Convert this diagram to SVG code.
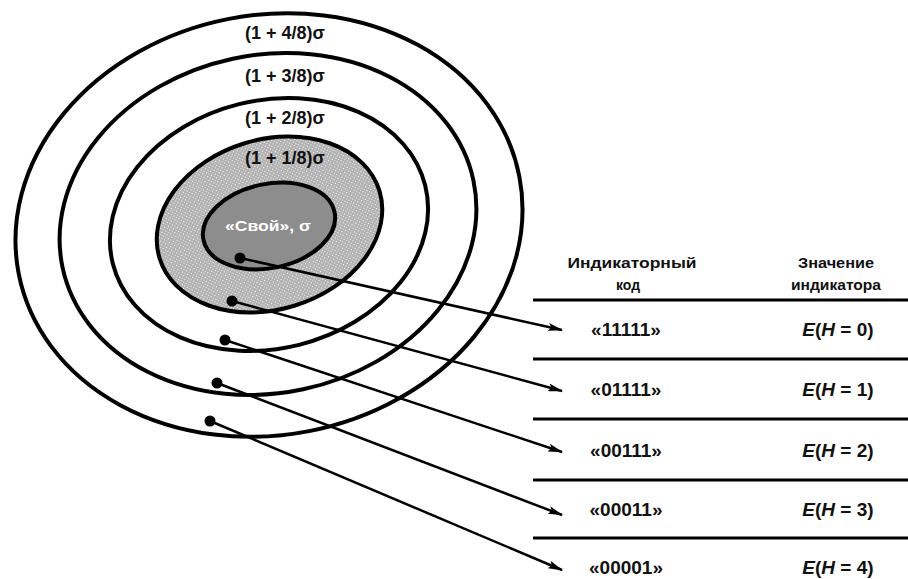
<svg xmlns="http://www.w3.org/2000/svg" width="908" height="579" viewBox="0 0 908 579">
<style>
.ring{fill:none;stroke:#000;stroke-width:4}
.lbl{font-family:"Liberation Sans",Arial,sans-serif;font-weight:bold;font-size:18px;fill:#111;text-anchor:middle}
.hdr{font-family:"Liberation Sans",Arial,sans-serif;font-weight:bold;font-size:14px;fill:#111;text-anchor:middle}
.cell{font-family:"Liberation Sans",Arial,sans-serif;font-weight:bold;font-size:19px;fill:#111;text-anchor:middle}
.it{font-style:italic}
.rule{stroke:#000;stroke-width:3}
.arr{stroke:#000;stroke-width:2.5;fill:none;marker-end:url(#ah)}
.dot{fill:#000}
</style>
<defs>
<pattern id="stip" width="4" height="4" patternUnits="userSpaceOnUse">
<rect width="4" height="4" fill="#b3b3b3"/>
<rect x="0" y="0" width="1" height="1" fill="#fff"/>
<rect x="2" y="2" width="1" height="1" fill="#e8e8e8"/>
</pattern>
<marker id="ah" viewBox="0 0 15 8" refX="14" refY="4" markerWidth="15" markerHeight="8" markerUnits="userSpaceOnUse" orient="auto">
<path d="M0,0 L15,4 L0,8 L3,4 Z" fill="#000"/>
</marker>
</defs>
<rect width="908" height="579" fill="#fff"/>

<g id="ring4">
<ellipse class="ring" cx="269" cy="225" rx="255" ry="210" transform="rotate(-11 269 225)"/>
<text class="lbl" x="285" y="39">(1 + 4/8)σ</text>
</g>
<g id="ring3">
<ellipse class="ring" cx="268" cy="224" rx="210" ry="169" transform="rotate(-12 268 224)"/>
<text class="lbl" x="285" y="82">(1 + 3/8)σ</text>
</g>
<g id="ring2">
<ellipse class="ring" cx="269" cy="224.5" rx="161" ry="124" transform="rotate(-14 269 224.5)"/>
<text class="lbl" x="285" y="124">(1 + 2/8)σ</text>
</g>
<g id="ring1">
<ellipse class="ring" cx="269.5" cy="224.5" rx="115" ry="85" transform="rotate(-17 269.5 224.5)" style="fill:url(#stip)"/>
<text class="lbl" x="285" y="164">(1 + 1/8)σ</text>
</g>
<g id="core">
<ellipse class="ring" cx="269" cy="226" rx="67" ry="42" transform="rotate(-12 269 226)" style="fill:#8d8d8d"/>
<text class="lbl" x="268" y="231" style="fill:#fff;font-size:15px" textLength="86" lengthAdjust="spacingAndGlyphs">«Свой», σ</text>
</g>

<g id="table">
<text class="hdr" x="632" y="268" textLength="129" lengthAdjust="spacingAndGlyphs">Индикаторный</text>
<text class="hdr" x="628" y="290">код</text>
<text class="hdr" x="836" y="268" textLength="76" lengthAdjust="spacingAndGlyphs">Значение</text>
<text class="hdr" x="836" y="290" textLength="90" lengthAdjust="spacingAndGlyphs">индикатора</text>
<line class="rule" x1="533" y1="300" x2="908" y2="300"/>
<line class="rule" x1="533" y1="359" x2="908" y2="359"/>
<line class="rule" x1="533" y1="419" x2="908" y2="419"/>
<line class="rule" x1="533" y1="480" x2="908" y2="480"/>
<line class="rule" x1="533" y1="538" x2="908" y2="538"/>
</g>
<g id="row0"><text class="cell" x="626" y="336">«11111»</text><text class="cell" x="838" y="336"><tspan class="it">E</tspan>(<tspan class="it">H</tspan> = 0)</text></g>
<g id="row1"><text class="cell" x="626" y="396">«01111»</text><text class="cell" x="838" y="396"><tspan class="it">E</tspan>(<tspan class="it">H</tspan> = 1)</text></g>
<g id="row2"><text class="cell" x="626" y="457">«00111»</text><text class="cell" x="838" y="457"><tspan class="it">E</tspan>(<tspan class="it">H</tspan> = 2)</text></g>
<g id="row3"><text class="cell" x="626" y="516">«00011»</text><text class="cell" x="838" y="516"><tspan class="it">E</tspan>(<tspan class="it">H</tspan> = 3)</text></g>
<g id="row4"><text class="cell" x="626" y="574">«00001»</text><text class="cell" x="838" y="574"><tspan class="it">E</tspan>(<tspan class="it">H</tspan> = 4)</text></g>

<g id="connectors">
<circle class="dot" cx="240" cy="258" r="5.5"/>
<line class="arr" x1="240" y1="258" x2="562" y2="330"/>
<circle class="dot" cx="232" cy="301" r="5.5"/>
<line class="arr" x1="232" y1="301" x2="562" y2="391"/>
<circle class="dot" cx="225" cy="340" r="5.5"/>
<line class="arr" x1="225" y1="340" x2="562" y2="452"/>
<circle class="dot" cx="217" cy="383" r="5.5"/>
<line class="arr" x1="217" y1="383" x2="562" y2="515"/>
<circle class="dot" cx="210" cy="421" r="5.5"/>
<line class="arr" x1="210" y1="421" x2="562" y2="570"/>
</g>
</svg>
